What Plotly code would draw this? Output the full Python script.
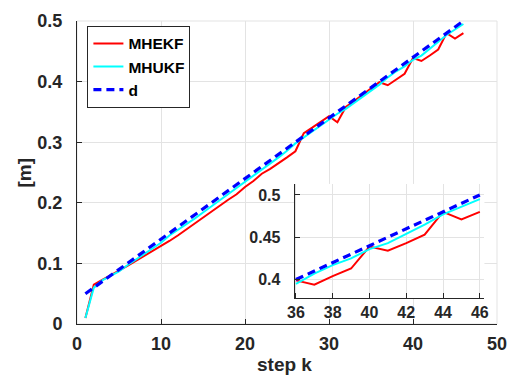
import plotly.graph_objects as go

# ---- data ----
k = list(range(1, 47))
mhekf = [0.010, 0.065, 0.073, 0.080, 0.088, 0.096, 0.104, 0.112, 0.120, 0.128,
         0.137, 0.146, 0.156, 0.166, 0.176, 0.186, 0.196, 0.205, 0.214, 0.226,
         0.236, 0.248, 0.256, 0.265, 0.275, 0.285, 0.315, 0.324, 0.333, 0.343,
         0.333, 0.358, 0.368, 0.378, 0.389, 0.399, 0.394, 0.404, 0.413, 0.439,
         0.434, 0.443, 0.453, 0.480, 0.471, 0.480]
mhukf = [0.010, 0.060, 0.072, 0.079, 0.087, 0.097, 0.106, 0.115, 0.125, 0.134,
         0.146, 0.155, 0.165, 0.174, 0.184, 0.194, 0.204, 0.214, 0.224, 0.235,
         0.245, 0.255, 0.265, 0.275, 0.286, 0.298, 0.308, 0.318, 0.328, 0.337,
         0.347, 0.355, 0.365, 0.375, 0.385, 0.395, 0.407, 0.417, 0.425, 0.436,
         0.443, 0.454, 0.465, 0.477, 0.486, 0.495]
d = [0.05, 0.06, 0.07, 0.08, 0.09, 0.10, 0.11, 0.12, 0.13, 0.14,
     0.15, 0.16, 0.17, 0.18, 0.19, 0.20, 0.21, 0.22, 0.23, 0.24,
     0.25, 0.26, 0.27, 0.28, 0.29, 0.30, 0.31, 0.32, 0.33, 0.34,
     0.35, 0.36, 0.37, 0.38, 0.39, 0.40, 0.41, 0.42, 0.43, 0.44,
     0.45, 0.46, 0.47, 0.48, 0.49, 0.50]
names = ["MHEKF", "MHUKF", "d"]
inset_start = 35  # index of k = 36
x_ticks = [0, 10, 20, 30, 40, 50]
y_ticks = [0, 0.1, 0.2, 0.3, 0.4, 0.5]
ix_ticks = [36, 38, 40, 42, 44, 46]
iy_ticks = [0.4, 0.45, 0.5]
iy_text = ["0.4", "0.45", "0.5"]

# ---- style ----
FONT = "Liberation Sans, Arial, sans-serif"
DARK = "#262626"
GRID = "#e3e3e3"
styles = [
    dict(color="#ff0000", width=2),
    dict(color="#00ffff", width=2),
    dict(color="#0000ff", width=3.2, dash="8px,5px"),
]
series = [mhekf, mhukf, d]

fig = go.Figure()
for name, ys, st in zip(names, series, styles):
    fig.add_trace(go.Scatter(x=k, y=ys, mode="lines", name=name, line=st,
                             xaxis="x", yaxis="y"))
for name, ys, st in zip(names, series, styles):
    fig.add_trace(go.Scatter(x=k[inset_start:], y=ys[inset_start:], mode="lines",
                             name=name, line=st, showlegend=False,
                             xaxis="x2", yaxis="y2"))

W, H = 518, 383
L, R, T, B = 77, 17, 11, 59
pw, ph = W - L - R, H - T - B

def px_x(p):
    return (p - L) / pw

def px_y(p):
    return (H - B - p) / ph

def axis_style(size):
    return dict(showgrid=True, gridcolor=GRID, gridwidth=1, zeroline=False,
                showline=True, linecolor=DARK, linewidth=1,
                ticks="inside", tickcolor=DARK, ticklen=5,
                tickfont=dict(family=FONT, size=size, color=DARK, weight="bold"))

fig.update_layout(
    width=W, height=H,
    margin=dict(l=L, r=R, t=T, b=B, pad=0),
    paper_bgcolor="white", plot_bgcolor="white",
    showlegend=True,
    legend=dict(x=px_x(87.5), y=px_y(16), xanchor="left", yanchor="top",
                bgcolor="white", bordercolor=DARK, borderwidth=1,
                font=dict(family=FONT, size=15.5, color="black", weight="bold"),
                tracegroupgap=0),
    xaxis=dict(range=[0, 50], tickvals=x_ticks, domain=[0, 1],
               anchor="y", ticklabelstandoff=3, **axis_style(18)),
    yaxis=dict(range=[0, 0.5], tickvals=y_ticks, domain=[0, 1],
               anchor="x", ticklabelstandoff=10, **axis_style(18)),
    xaxis2=dict(range=[35.93, 46.25], tickvals=ix_ticks,
                domain=[px_x(296.7), px_x(488.3)], anchor="y2",
                ticklabelstandoff=0, **axis_style(16)),
    yaxis2=dict(range=[0.378, 0.513], tickvals=iy_ticks, ticktext=iy_text,
                domain=[px_y(297.3), px_y(179.3)], anchor="x2",
                ticklabelstandoff=10, **axis_style(16)),
    shapes=[dict(type="rect", xref="paper", yref="paper", x0=0, x1=1, y0=0, y1=1,
                 line=dict(color=GRID, width=1), layer="below")],
    annotations=[
        dict(text="<b>[m]</b>", textangle=-90, xref="paper", yref="paper",
             x=px_x(24), y=px_y(168), xanchor="center", yanchor="middle",
             showarrow=False, font=dict(family=FONT, size=19, color=DARK)),
        dict(text="<b>step k</b>", xref="paper", yref="paper",
             x=px_x(286), y=px_y(366), xanchor="center", yanchor="middle",
             showarrow=False, font=dict(family=FONT, size=19, color=DARK)),
    ],
)

fig.write_html("out.html")
